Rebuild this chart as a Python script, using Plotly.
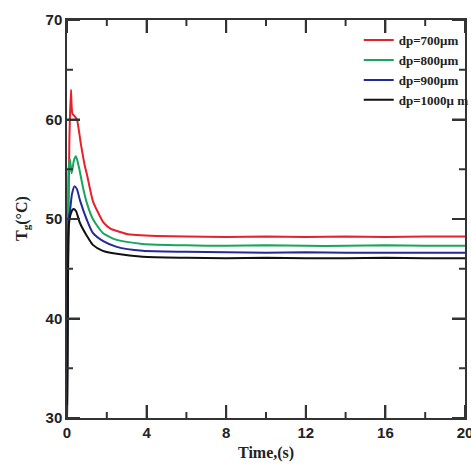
import plotly.graph_objects as go

# ---- data ----
t_red = [0, 0.05, 0.12, 0.2, 0.27, 0.4, 0.5, 0.7, 0.9, 1.0, 1.3, 1.6, 1.85, 2.2, 2.5, 3.0, 3.5, 4.5, 6, 8, 10, 12, 14, 16, 18, 20]
T_red = [30, 45, 58, 63, 60.6, 60.3, 60.0, 57.5, 55.3, 54.5, 51.8, 50.5, 49.6, 49.0, 48.8, 48.5, 48.4, 48.3, 48.25, 48.2, 48.25, 48.2, 48.25, 48.2, 48.25, 48.25]

t_green = [0, 0.05, 0.08, 0.15, 0.23, 0.35, 0.45, 0.6, 0.8, 1.0, 1.3, 1.8, 2.5, 3.8, 6, 8, 10, 12, 14, 16, 18, 20]
T_green = [30, 46, 55, 56, 54.6, 55.9, 56.3, 55.2, 53.2, 51.6, 50.0, 48.6, 47.9, 47.5, 47.35, 47.3, 47.35, 47.3, 47.3, 47.35, 47.3, 47.3]

t_blue = [0, 0.05, 0.1, 0.15, 0.25, 0.38, 0.5, 0.65, 1.0, 1.3, 1.8, 2.5, 3.8, 6, 8, 10, 12, 14, 16, 18, 20]
T_blue = [30, 48, 50.3, 50.8, 52.5, 53.3, 53.0, 51.9, 49.9, 48.6, 47.8, 47.2, 46.8, 46.7, 46.65, 46.6, 46.65, 46.6, 46.6, 46.6, 46.6]

t_black = [0, 0.05, 0.1, 0.2, 0.32, 0.45, 0.65, 1.0, 1.3, 1.8, 2.5, 3.8, 6, 8, 10, 12, 14, 16, 18, 20]
T_black = [30, 44, 49.5, 50.6, 51.0, 50.8, 49.6, 48.3, 47.4, 46.8, 46.5, 46.2, 46.1, 46.05, 46.1, 46.05, 46.05, 46.1, 46.05, 46.05]

labels = ["dp=700\u03bcm", "dp=800\u03bcm", "dp=900\u03bcm", "dp=1000\u03bc m"]
colors = ["#e8202a", "#17a65a", "#25289a", "#111111"]

x_ticks = [0, 4, 8, 12, 16, 20]
x_minor = [2, 6, 10, 14, 18]
y_ticks = [30, 40, 50, 60, 70]
y_minor = [35, 45, 55, 65]

series = [(t_red, T_red), (t_green, T_green), (t_blue, T_blue), (t_black, T_black)]

fig = go.Figure()
for (tx, ty), name, c in zip(series, labels, colors):
    fig.add_trace(go.Scatter(x=tx, y=ty, mode="lines", name="<b>" + name + "</b>",
                             line=dict(color=c, width=2, shape="spline", smoothing=0.6)))

tickfont = dict(family="Liberation Sans Narrow, Arial Narrow, Liberation Sans, sans-serif",
                size=15, color="#222222")
AX = "#333333"

fig.update_xaxes(range=[0, 20], tickvals=x_ticks, ticktext=["<b>%d</b>" % v for v in x_ticks],
                 ticks="inside", ticklen=13, tickwidth=2, tickcolor=AX,
                 showline=True, linecolor=AX, linewidth=1.5, mirror="ticks",
                 showgrid=False, zeroline=False, tickfont=tickfont,
                 automargin=False, ticklabeloverflow="allow")
fig.update_yaxes(range=[30, 70], tickvals=y_ticks, ticktext=["<b>%d</b>" % v for v in y_ticks],
                 ticks="inside", ticklen=13, tickwidth=2, tickcolor=AX,
                 showline=True, linecolor=AX, linewidth=1.5, mirror="ticks",
                 showgrid=False, zeroline=False, tickfont=tickfont, automargin=False)

# tick marks on all four sides (major and minor), built from the tick lists
def xtick(v, length):
    for anchor, sgn in ((0, 1), (1, -1)):
        fig.add_shape(type="line", xref="x", yref="paper", ysizemode="pixel", yanchor=anchor,
                      x0=v, x1=v, y0=0, y1=sgn * length, line=dict(color=AX, width=2))

def ytick(v, length):
    for anchor, sgn in ((0, 1), (1, -1)):
        fig.add_shape(type="line", xref="paper", yref="y", xsizemode="pixel", xanchor=anchor,
                      y0=v, y1=v, x0=0, x1=sgn * length, line=dict(color=AX, width=2))

for v in x_ticks:
    xtick(v, 13)
for v in x_minor:
    xtick(v, 6)
for v in y_ticks:
    ytick(v, 13)
for v in y_minor:
    ytick(v, 6)

fig.add_annotation(text="<b>T<sub>g</sub>(\u00b0C)</b>", xref="paper", yref="paper", x=-0.113, y=0.5,
                   xanchor="center", yanchor="middle", textangle=-90, showarrow=False,
                   font=dict(family="Liberation Serif, serif", size=16, color="#222222"))
fig.add_annotation(text="<b>Time,(s)</b>", xref="paper", yref="paper", x=0.5, y=-0.088,
                   xanchor="center", yanchor="middle", showarrow=False,
                   font=dict(family="Liberation Serif, serif", size=16, color="#222222"))

fig.update_layout(
    width=471, height=469,
    margin=dict(l=67, r=6, t=20, b=51, autoexpand=False),
    plot_bgcolor="white", paper_bgcolor="white",
    showlegend=True,
    legend=dict(x=0.733, y=0.987, xanchor="left", yanchor="top", bgcolor="rgba(0,0,0,0)",
                font=dict(family="Liberation Serif, serif", size=13, color="#222222"),
                tracegroupgap=0, itemwidth=30),
)

fig.write_html("out.html")
